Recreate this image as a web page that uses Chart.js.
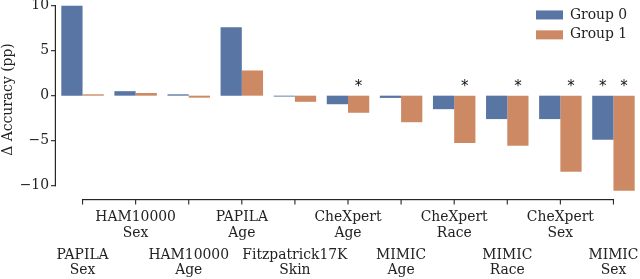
<!DOCTYPE html>
<html>
<head>
<meta charset="utf-8">
<script src="https://cdn.jsdelivr.net/npm/chart.js@4/dist/chart.umd.min.js"></script>
<style>
  html, body { margin: 0; padding: 0; background: #ffffff; }
  #wrap { width: 640px; height: 279px; position: relative; }
</style>
</head>
<body>
<div id="wrap"><canvas id="c"></canvas></div>
<script>
// ---- data ----
const datasetNames = ["PAPILA", "HAM10000", "HAM10000", "PAPILA", "Fitzpatrick17K", "CheXpert", "MIMIC", "CheXpert", "MIMIC", "CheXpert", "MIMIC"];
const attributes   = ["Sex", "Sex", "Age", "Age", "Skin", "Age", "Age", "Race", "Race", "Sex", "Sex"];
const group0 = [10.0, 0.5, 0.15, 7.6, -0.1, -0.95, -0.25, -1.5, -2.6, -2.6, -4.9];
const group1 = [0.15, 0.3, -0.22, 2.8, -0.68, -1.9, -2.95, -5.25, -5.55, -8.45, -10.55];
const sig0 = [0, 0, 0, 0, 0, 0, 0, 0, 0, 0, 1];
const sig1 = [0, 0, 0, 0, 0, 1, 0, 1, 1, 1, 1];
const seriesNames = ["Group 0", "Group 1"];
const yTicks = [-10, -5, 0, 5, 10];
const yTitle = "\u0394 Accuracy (pp)";

const categories = datasetNames.map((d, i) => [d, attributes[i]]);

const FONT = "'DejaVu Serif', serif";
const FS = 13.9;
const AXIS = "#262626";

const spinePlugin = {
  id: 'spines',
  beforeDraw(chart) {
    const lg = chart.legend;
    if (lg) {
      lg.left = 530;
      lg.top = 2;
      lg.bottom = lg.top + lg.height;
    }
  },
  afterDraw(chart) {
    const ctx = chart.ctx;
    const x = chart.scales.x, y = chart.scales.y;
    ctx.save();
    ctx.fillStyle = AXIS;
    // trimmed y spine + ticks
    const yx = chart.chartArea.left;
    const yTop = y.getPixelForValue(yTicks[yTicks.length - 1]);
    const yBot = y.getPixelForValue(yTicks[0]);
    ctx.fillRect(yx - 1.2, yTop - 0.6, 1.2, yBot - yTop + 1.2);
    yTicks.forEach(v => {
      const py = y.getPixelForValue(v);
      ctx.fillRect(yx - 5, py - 0.55, 5, 1.1);
    });
    // trimmed x spine + ticks
    const xy = chart.chartArea.bottom;
    const xL = x.getPixelForTick(0), xR = x.getPixelForTick(categories.length - 1);
    ctx.fillRect(xL - 0.6, xy, xR - xL + 1.2, 1.2);
    for (let i = 0; i < categories.length; i++) {
      const px = x.getPixelForTick(i);
      ctx.fillRect(px - 0.55, xy, 1.1, 5.5);
    }
    // significance stars
    ctx.fillStyle = "#111";
    ctx.font = "15px 'DejaVu Sans', sans-serif";
    ctx.textAlign = 'center';
    ctx.textBaseline = 'middle';
    const sigs = [sig0, sig1];
    const starY = y.getPixelForValue(0) - 9;
    sigs.forEach((s, di) => {
      const meta = chart.getDatasetMeta(di);
      s.forEach((flag, j) => {
        if (flag) ctx.fillText("*", meta.data[j].x, starY);
      });
    });
    ctx.restore();
  }
};

new Chart(document.getElementById('c'), {
  type: 'bar',
  data: {
    labels: categories,
    datasets: [
      { label: seriesNames[0], data: group0, backgroundColor: '#5975A4', borderWidth: 0,
        categoryPercentage: 0.8, barPercentage: 1.0 },
      { label: seriesNames[1], data: group1, backgroundColor: '#CC8963', borderWidth: 0,
        categoryPercentage: 0.8, barPercentage: 1.0 }
    ]
  },
  options: {
    responsive: true,
    maintainAspectRatio: false,
    animation: false,
    devicePixelRatio: 1,
    layout: { padding: { left: 0, right: -2, top: 0, bottom: 0 } },
    plugins: {
      legend: {
        position: 'chartArea',
        align: 'start',
        labels: {
          boxWidth: 27, boxHeight: 9, padding: 6,
          color: '#222',
          font: { family: FONT, size: FS }
        }
      },
      tooltip: { enabled: false },
      title: { display: false }
    },
    scales: {
      x: {
        type: 'category',
        position: 'bottom',
        offset: true,
        weight: 1,
        grid: { display: false, drawTicks: false, tickLength: 0 },
        border: { display: false },
        ticks: {
          autoSkip: false, maxRotation: 0, minRotation: 0, padding: 10,
          color: '#222', font: { family: FONT, size: FS, lineHeight: 1.17 },
          callback: function(v, i) { return i % 2 === 1 ? categories[i] : ''; }
        },
        afterFit(s) { s.height = 43; s.paddingLeft = 0; s.paddingRight = 0; }
      },
      x2: {
        type: 'category',
        position: 'bottom',
        offset: true,
        weight: 2,
        labels: categories,
        grid: { display: false, drawTicks: false, tickLength: 0 },
        border: { display: false },
        ticks: {
          autoSkip: false, maxRotation: 0, minRotation: 0, padding: 5.7,
          color: '#222', font: { family: FONT, size: FS, lineHeight: 1.07 },
          callback: function(v, i) { return i % 2 === 0 ? categories[i] : ''; }
        },
        afterFit(s) { s.height = 37; s.paddingLeft = 0; s.paddingRight = 0; }
      },
      y: {
        type: 'linear',
        min: -11.48,
        max: 10.63,
        grid: { display: false, drawTicks: false, tickLength: 0 },
        border: { display: false },
        afterBuildTicks(s) { s.ticks = yTicks.map(v => ({ value: v })); },
        ticks: {
          padding: 7,
          color: '#222', font: { family: FONT, size: FS },
          callback: function(v) { return v < 0 ? '\u2212' + Math.abs(v) : String(v); }
        },
        title: {
          display: true, text: yTitle, color: '#222',
          font: { family: FONT, size: FS }, padding: { top: 0, bottom: 0 }
        },
        afterFit(s) { s.width = 56; s.paddingTop = 0; s.paddingBottom = 0; }
      }
    }
  },
  plugins: [spinePlugin]
});
</script>
</body>
</html>
